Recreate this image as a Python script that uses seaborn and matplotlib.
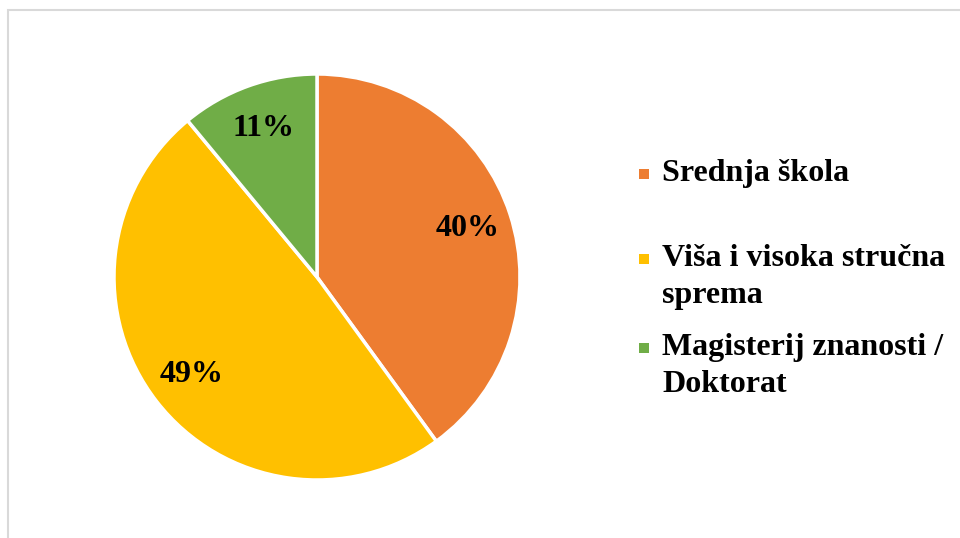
import matplotlib
matplotlib.use("Agg")
import matplotlib.pyplot as plt
import seaborn as sns
from matplotlib.patches import Rectangle

categories = ["Srednja škola", "Viša i visoka stručna\nsprema", "Magisterij znanosti /\nDoktorat"]
values = [40, 49, 11]
colors = ["#ED7D31", "#FFC000", "#70AD47"]

sns.set_theme(style="white")
plt.rcParams['font.family'] = ['Liberation Serif', 'DejaVu Serif']
plt.rcParams['text.color'] = 'black'

fig = plt.figure(figsize=(9.6, 5.38), dpi=100)
# outer frame
fig.patches.append(Rectangle((8/960, -0.05), 1.1, (538-10)/538 + 0.05, transform=fig.transFigure,
                             fill=False, edgecolor="#D9D9D9", linewidth=1.5))

cx, cy, r = 317, 277, 203
ax = fig.add_axes([(cx - r)/960, (538 - cy - r)/538, 2*r/960, 2*r/538])
wedges, texts, autotexts = ax.pie(values, colors=colors, startangle=90, counterclock=False,
                                  autopct=lambda p: f"{p:.0f}%", pctdistance=0.78,
                                  wedgeprops=dict(edgecolor="white", linewidth=2.5),
                                  textprops=dict(fontsize=23, fontweight="bold", color="black"))
ax.set_xlim(-1, 1)
ax.set_ylim(-1, 1)
ax.set_aspect("equal")
ax.axis("off")

# legend
ys = [174, 277, 366]
for lab, col, y in zip(categories, colors, ys):
    nlines = lab.count("\n") + 1
    ytop = y - (nlines - 1) * 37 / 2
    fig.patches.append(Rectangle((639/960, 1 - (ytop + 5)/538), 10/960, 10/538,
                                 transform=fig.transFigure, facecolor=col, edgecolor="none"))
    fig.text(662/960, 1 - y/538, lab, fontsize=23, fontweight="bold", va="center", ha="left",
             linespacing=1.33, color="black")

fig.savefig("out.png", dpi=100)
